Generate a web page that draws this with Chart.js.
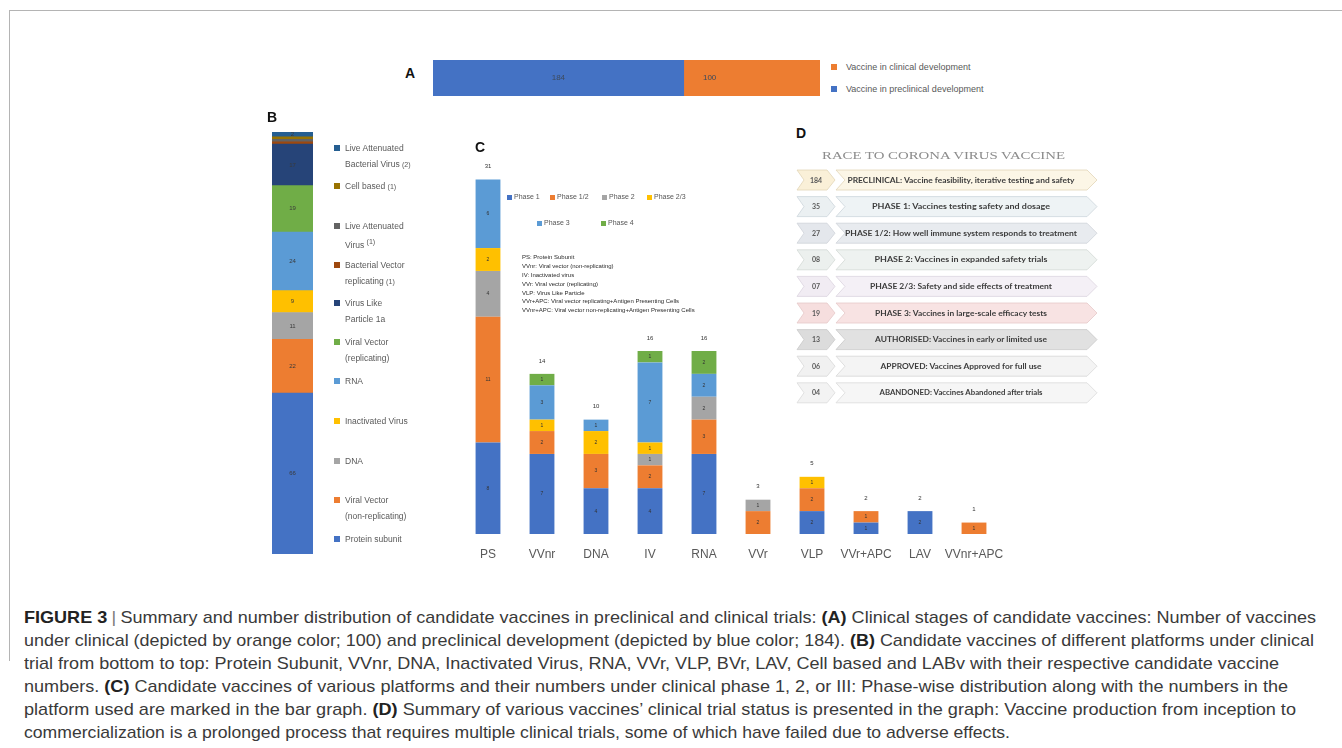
<!DOCTYPE html>
<html><head><meta charset="utf-8">
<script src="https://cdn.jsdelivr.net/npm/chart.js@4.4.0/dist/chart.umd.min.js"></script>
<style>
html,body{margin:0;padding:0}
body{width:1342px;height:748px;background:#fff;overflow:hidden;position:relative;font-family:"Liberation Sans",Arial,sans-serif}
.t{position:absolute;white-space:nowrap}
.sq{position:absolute}
canvas{position:absolute}
#frame{position:absolute;left:9px;top:10px;width:1340px;height:650px;border-top:1px solid #b4b4b4;border-left:1px solid #b4b4b4}
#caption{position:absolute;left:24px;top:606px;font-family:"Liberation Sans",Arial,sans-serif;font-size:17px;line-height:23px;color:#3a3a3a}
#caption div{white-space:nowrap;transform-origin:0 0;width:max-content}
#caption b{color:#222}
.sep{color:#777;padding:0 4px}
.plab{position:absolute;font-family:"Liberation Sans",Arial,sans-serif;font-weight:bold;font-size:14px;color:#111;line-height:14px}
</style></head><body>
<div id="frame"></div>

<canvas id="cA" width="387" height="36" style="left:433px;top:60px"></canvas>
<canvas id="cB" width="41" height="422" style="left:272px;top:132px"></canvas>
<canvas id="cC" width="560" height="410" style="left:451px;top:150px"></canvas>

<div class="plab" style="left:405px;top:66px">A</div>
<div class="plab" style="left:267px;top:110px">B</div>
<div class="plab" style="left:475px;top:140px">C</div>
<div class="plab" style="left:796px;top:126px">D</div>

<svg id="svgD" width="330" height="270" viewBox="785 140 330 270" style="position:absolute;left:785px;top:140px"></svg>

<div id="caption">
<div><b>FIGURE 3</b><span class="sep">|</span>Summary and number distribution of candidate vaccines in preclinical and clinical trials: <b>(A)</b> Clinical stages of candidate vaccines: Number of vaccines</div>
<div>under clinical (depicted by orange color; 100) and preclinical development (depicted by blue color; 184). <b>(B)</b> Candidate vaccines of different platforms under clinical</div>
<div>trial from bottom to top: Protein Subunit, VVnr, DNA, Inactivated Virus, RNA, VVr, VLP, BVr, LAV, Cell based and LABv with their respective candidate vaccine</div>
<div>numbers. <b>(C)</b> Candidate vaccines of various platforms and their numbers under clinical phase 1, 2, or III: Phase-wise distribution along with the numbers in the</div>
<div>platform used are marked in the bar graph. <b>(D)</b> Summary of various vaccines&#8217; clinical trial status is presented in the graph: Vaccine production from inception to</div>
<div>commercialization is a prolonged process that requires multiple clinical trials, some of which have failed due to adverse effects.</div>
</div>

<script>
// ---------------- DATA ----------------
// Panel A
const stageLabels = ['Vaccine in preclinical development', 'Vaccine in clinical development'];
const stageValues = [184, 100];

// Panel B (bottom to top)
const platformLabels = ['Protein subunit', 'Viral Vector (non-replicating)', 'DNA', 'Inactivated Virus', 'RNA',
  'Viral Vector (replicating)', 'Virus Like Particle', 'Bacterial Vector replicating', 'Live Attenuated Virus',
  'Cell based', 'Live Attenuated Bacterial Virus'];
const platformValues = [66, 22, 11, 9, 24, 19, 17, 1, 1, 1, 2];
const platformLegendText = [
  ['Protein subunit'],
  ['Viral Vector', '(non-replicating)'],
  ['DNA'],
  ['Inactivated Virus'],
  ['RNA'],
  ['Viral Vector', '(replicating)'],
  ['Virus Like', 'Particle 1a'],
  ['Bacterial Vector', 'replicating <small>(1)</small>'],
  ['Live Attenuated', 'Virus <sup>(1)</sup>'],
  ['Cell based <small>(1)</small>'],
  ['Live Attenuated', 'Bacterial Virus <small>(2)</small>']
];

// Panel C
const trialCategories = ['PS', 'VVnr', 'DNA', 'IV', 'RNA', 'VVr', 'VLP', 'VVr+APC', 'LAV', 'VVnr+APC'];
const phaseNames = ['Phase 1', 'Phase 1/2', 'Phase 2', 'Phase 2/3', 'Phase 3', 'Phase 4'];
const phase1  = [8, 7, 4, 4, 7, 0, 2, 1, 2, 0];
const phase12 = [11, 2, 3, 2, 3, 2, 2, 1, 0, 1];
const phase2  = [4, 0, 0, 1, 2, 1, 0, 0, 0, 0];
const phase23 = [2, 1, 2, 1, 0, 0, 1, 0, 0, 0];
const phase3  = [6, 3, 1, 7, 2, 0, 0, 0, 0, 0];
const phase4  = [0, 1, 0, 1, 2, 0, 0, 0, 0, 0];
const abbreviations = [
  'PS: Protein Subunit',
  'VVnr: Viral vector (non-replicating)',
  'IV: Inactivated virus',
  'VVr: Viral vector (replicating)',
  'VLP: Virus Like Particle',
  'VVr+APC: Viral vector replicating+Antigen Presenting Cells',
  'VVnr+APC: Viral vector non-replicating+Antigen Presenting Cells'
];

// Panel D
const raceTitle = 'RACE TO CORONA VIRUS VACCINE';
const raceCounts = ['184', '35', '27', '08', '07', '19', '13', '06', '04'];
const raceStages = [
  'PRECLINICAL: Vaccine feasibility, iterative testing and safety',
  'PHASE 1: Vaccines testing safety and dosage',
  'PHASE 1/2: How well immune system responds to treatment',
  'PHASE 2: Vaccines in expanded safety trials',
  'PHASE 2/3: Safety and side effects of treatment',
  'PHASE 3: Vaccines in large-scale efficacy tests',
  'AUTHORISED: Vaccines in early or limited use',
  'APPROVED: Vaccines Approved for full use',
  'ABANDONED: Vaccines Abandoned after trials'
];

// ---------------- STYLE ----------------
const stageColors = ['#4472c4', '#ed7d31'];
const platformColors = ['#4472c4', '#ed7d31', '#a5a5a5', '#ffc000', '#5b9bd5', '#70ad47', '#264478', '#9e480e', '#636363', '#997300', '#255e91'];
const phaseColors = ['#4472c4', '#ed7d31', '#a5a5a5', '#ffc000', '#5b9bd5', '#70ad47'];
const phaseData = [phase1, phase12, phase2, phase23, phase3, phase4];

function txt(x, y, s, o = {}) {
  const d = document.createElement('div');
  d.className = 't';
  const size = o.size || 9;
  d.style.left = x + 'px';
  d.style.top = (y - size * 0.6) + 'px';
  d.style.fontSize = size + 'px';
  d.style.lineHeight = (size * 1.2) + 'px';
  d.style.color = o.color || '#595959';
  if (o.weight) d.style.fontWeight = o.weight;
  if (o.family) d.style.fontFamily = o.family;
  d.innerHTML = s;
  document.body.appendChild(d);
  return d;
}
function sq(x, y, s, color) {
  const d = document.createElement('div');
  d.className = 'sq';
  d.style.left = x + 'px'; d.style.top = (y - s / 2) + 'px';
  d.style.width = s + 'px'; d.style.height = s + 'px';
  d.style.background = color;
  document.body.appendChild(d);
}
Chart.defaults.font.family = '"Liberation Sans", Arial, sans-serif';

// ---------------- PANEL A ----------------
const sumA = stageValues.reduce((a, b) => a + b, 0);
const labelsA = {
  id: 'labelsA',
  afterDatasetsDraw(chart) {
    const ctx = chart.ctx;
    ctx.save();
    ctx.font = '8px "Liberation Sans", Arial';
    ctx.fillStyle = '#3d4a5c';
    ctx.textAlign = 'center'; ctx.textBaseline = 'middle';
    chart.data.datasets.forEach((ds, di) => {
      const el = chart.getDatasetMeta(di).data[0];
      const x = di === 0 ? (el.x + el.base) / 2 : el.base + (el.x - el.base) * 0.19;
      ctx.fillText(String(ds.data[0]), x, el.y);
    });
    ctx.restore();
  }
};
new Chart(document.getElementById('cA'), {
  type: 'bar',
  data: {
    labels: [''],
    datasets: stageValues.map((v, i) => ({
      label: stageLabels[i], data: [v], backgroundColor: stageColors[i],
      borderWidth: 0, barPercentage: 1, categoryPercentage: 1
    }))
  },
  options: {
    indexAxis: 'y', responsive: false, animation: false,
    layout: { padding: 0 },
    plugins: { legend: { display: false }, tooltip: { enabled: false } },
    scales: {
      x: { stacked: true, display: false, min: 0, max: sumA },
      y: { stacked: true, display: false }
    }
  },
  plugins: [labelsA]
});
// legend A (clinical on top)
sq(831, 67, 6, stageColors[1]); txt(846, 67, stageLabels[1], { size: 9 });
sq(831, 89, 6, stageColors[0]); txt(846, 89, stageLabels[0], { size: 9 });

// ---------------- PANEL B ----------------
const sumB = platformValues.reduce((a, b) => a + b, 0);
const labelsB = {
  id: 'labelsB',
  afterDatasetsDraw(chart) {
    const ctx = chart.ctx;
    ctx.save();
    ctx.font = '6px "Liberation Sans", Arial';
    ctx.fillStyle = '#3a3a3a';
    ctx.textAlign = 'center'; ctx.textBaseline = 'middle';
    chart.data.datasets.forEach((ds, di) => {
      const v = ds.data[0];
      if (v < 2) return;
      const el = chart.getDatasetMeta(di).data[0];
      ctx.fillText(String(v), el.x, (el.y + el.base) / 2);
    });
    ctx.restore();
  }
};
new Chart(document.getElementById('cB'), {
  type: 'bar',
  data: {
    labels: [''],
    datasets: platformValues.map((v, i) => ({
      label: platformLabels[i], data: [v], backgroundColor: platformColors[i],
      borderWidth: 0, barPercentage: 1, categoryPercentage: 1
    }))
  },
  options: {
    responsive: false, animation: false,
    layout: { padding: 0 },
    plugins: { legend: { display: false }, tooltip: { enabled: false } },
    scales: {
      x: { stacked: true, display: false },
      y: { stacked: true, display: false, min: 0, max: sumB }
    }
  },
  plugins: [labelsB]
});
// legend B (top to bottom = reversed dataset order)
const legendBY = [148, 186, 226, 265, 303, 342, 381, 421, 461, 500, 539];
for (let k = 0; k < platformLabels.length; k++) {
  const i = platformLabels.length - 1 - k;
  const y = legendBY[k];
  sq(334, y, 6, platformColors[i]);
  platformLegendText[i].forEach((line, li) => txt(345, y + li * 16, line, { size: 8.5 }));
}

// ---------------- PANEL C ----------------
const labelsC = {
  id: 'labelsC',
  afterDatasetsDraw(chart) {
    const ctx = chart.ctx;
    ctx.save();
    ctx.fillStyle = '#333';
    ctx.textAlign = 'center'; ctx.textBaseline = 'middle';
    ctx.font = '5px "Liberation Sans", Arial';
    chart.data.datasets.forEach((ds, di) => {
      chart.getDatasetMeta(di).data.forEach((el, i) => {
        const v = ds.data[i];
        if (!v) return;
        ctx.fillText(String(v), el.x, (el.y + el.base) / 2);
      });
    });
    const ys = chart.scales.y;
    ctx.font = '6px "Liberation Sans", Arial';
    trialCategories.forEach((c, i) => {
      const tot = chart.data.datasets.reduce((s, ds) => s + (ds.data[i] || 0), 0);
      const x = chart.getDatasetMeta(0).data[i].x;
      ctx.fillText(String(tot), x, ys.getPixelForValue(tot) - 13);
    });
    ctx.restore();
  }
};
new Chart(document.getElementById('cC'), {
  type: 'bar',
  data: {
    labels: trialCategories,
    datasets: phaseNames.map((n, i) => ({
      label: n, data: phaseData[i], backgroundColor: phaseColors[i],
      borderWidth: 0, barPercentage: 0.46, categoryPercentage: 1
    }))
  },
  options: {
    responsive: false, animation: false,
    layout: { padding: { left: 10, right: 10, top: 18, bottom: 0 } },
    plugins: { legend: { display: false }, tooltip: { enabled: false } },
    scales: {
      x: {
        stacked: true,
        grid: { display: false }, border: { display: false },
        ticks: { color: '#595959', font: { size: 12 }, padding: 5, maxRotation: 0, minRotation: 0, autoSkip: false },
        afterFit: (s) => { s.height = 26; }
      },
      y: { stacked: true, display: false, min: 0, max: 32 }
    }
  },
  plugins: [labelsC]
});
// legend C
const legCPos = [[507, 197], [550, 197], [602, 197], [647, 197], [537, 223], [601, 223]];
phaseNames.forEach((n, i) => {
  sq(legCPos[i][0], legCPos[i][1], 5, phaseColors[i]);
  txt(legCPos[i][0] + 7, legCPos[i][1], n, { size: 7, color: '#555' });
});
abbreviations.forEach((a, i) => txt(522, 258 + i * 8.8, a, { size: 6, color: '#2a2a2a' }));

// ---------------- PANEL D ----------------
const NS = 'http://www.w3.org/2000/svg';
const svg = document.getElementById('svgD');
function el(tag, attrs, text) {
  const e = document.createElementNS(NS, tag);
  for (const k in attrs) e.setAttribute(k, attrs[k]);
  if (text !== undefined) e.textContent = text;
  svg.appendChild(e);
  return e;
}
el('text', { x: 822, y: 159, 'font-family': '"Liberation Serif", "DejaVu Serif", serif', 'font-size': 11,
  fill: '#8c8c8c', textLength: 243, lengthAdjust: 'spacingAndGlyphs' }, raceTitle);
const rowFill = ['#fcf6e6', '#eef3f5', '#e8ebef', '#eef2f0', '#f4f0f6', '#f8e3e3', '#e1e1e1', '#f4f4f4', '#f6f6f6'];
const numFill = ['#faf0d8', '#ebf0f2', '#e4e7ec', '#ecf0ee', '#f1ecf3', '#f6dede', '#dcdcdc', '#f1f1f1', '#f3f3f3'];
const rowStroke = ['#e2d6b8', '#cdd6dc', '#cfd3d9', '#d3d9d6', '#dcd4df', '#e6c9c9', '#c9c9c9', '#d8d8d8', '#dadada'];
const textLen = [227, 178, 232, 173, 182, 172, 172, 161, 163];
const rowY0 = 180, rowStep = 26.6;
raceStages.forEach((s, i) => {
  const cy = rowY0 + i * rowStep, h = 10;
  el('polygon', { points: `797,${cy - h} 827,${cy - h} 835,${cy} 827,${cy + h} 797,${cy + h} 804,${cy}`,
    fill: numFill[i], stroke: rowStroke[i], 'stroke-width': 0.8 });
  el('polygon', { points: `836,${cy - h} 1087,${cy - h} 1097,${cy} 1087,${cy + h} 836,${cy + h} 845,${cy}`,
    fill: rowFill[i], stroke: rowStroke[i], 'stroke-width': 0.8 });
  el('text', { x: 816, y: cy + 2.5, 'text-anchor': 'middle', 'font-family': 'Lato, "Liberation Sans", sans-serif',
    'font-size': 7, 'font-weight': 700, fill: '#5a5a5a' }, raceCounts[i]);
  el('text', { x: 961, y: cy + 2.6, 'text-anchor': 'middle', 'font-family': 'Lato, "Liberation Sans", sans-serif',
    'font-size': 7.5, 'font-weight': 700, fill: '#3c3c3c', textLength: textLen[i], lengthAdjust: 'spacingAndGlyphs' }, s);
});

// ---------------- CAPTION fit (per line, to the reference line ends) ----------------
const capEnds = [1316, 1314, 1279, 1288, 1296, 1010];
const cap = document.getElementById('caption');
Array.from(cap.children).forEach((line, i) => {
  const w = line.getBoundingClientRect().width;
  line.style.transform = `scaleX(${(capEnds[i] - 24) / w})`;
});
</script>
</body></html>
